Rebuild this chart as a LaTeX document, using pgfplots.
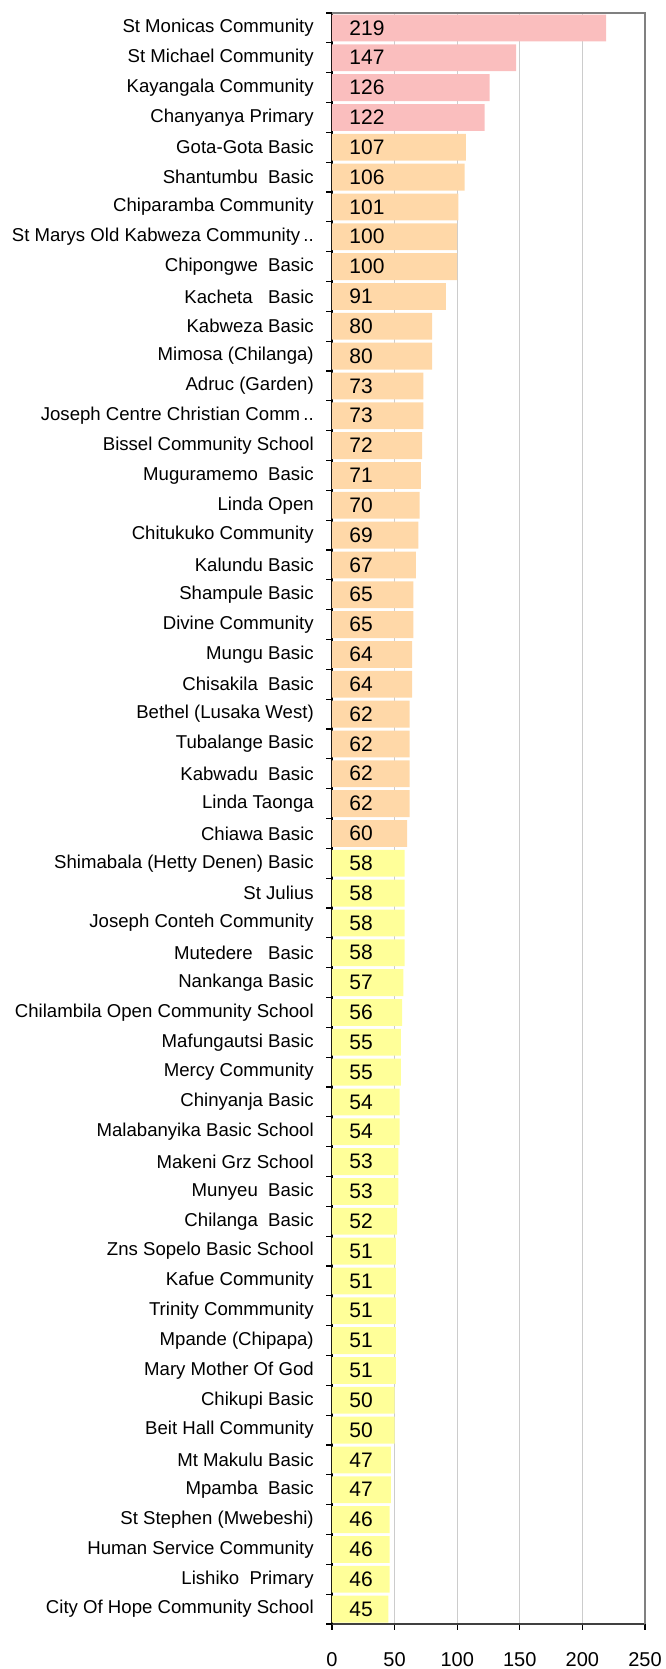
\documentclass[border=0pt]{standalone}
\usepackage{pgfplots}
\pgfplotsset{compat=1.18}
\usepackage{pgfplotstable}
\usepackage{fontspec}
\setmainfont{Liberation Sans}
\definecolor{cpink}{RGB}{250,190,190}
\definecolor{cpeach}{RGB}{255,216,168}
\definecolor{cyel}{RGB}{255,255,153}
\definecolor{bordergray}{RGB}{128,128,128}

\pgfplotstableread{
y v
0 219
1 147
2 126
3 122
}\pinktab

\pgfplotstableread{
y v
4 107
5 106
6 101
7 100
8 100
9 91
10 80
11 80
12 73
13 73
14 72
15 71
16 70
17 69
18 67
19 65
20 65
21 64
22 64
23 62
24 62
25 62
26 62
27 60
}\peachtab

\pgfplotstableread{
y v
28 58
29 58
30 58
31 58
32 57
33 56
34 55
35 55
36 54
37 54
38 53
39 53
40 52
41 51
42 51
43 51
44 51
45 51
46 50
47 50
48 47
49 47
50 46
51 46
52 46
53 45
}\yeltab

\begin{document}
\begin{tikzpicture}
\begin{axis}[name=ax,
  scale only axis, width=156.5pt, height=805.5pt,
  xmin=0, xmax=250, ymin=-0.5, ymax=53.5, y dir=reverse,
  xtick={0,50,...,250},
  ytick={0,...,53},
  yticklabels={St Monicas Community,St Michael Community,Kayangala Community,Chanyanya Primary,Gota-Gota Basic,Shantumbu\ \ Basic,Chiparamba Community,St Marys Old Kabweza Community\,..,Chipongwe\ \ Basic,Kacheta\ \ \ Basic,Kabweza Basic,Mimosa (Chilanga),Adruc (Garden),Joseph Centre Christian Comm\,..,Bissel Community School,Muguramemo\ \ Basic,Linda Open,Chitukuko Community,Kalundu Basic,Shampule Basic,Divine Community,Mungu Basic,Chisakila\ \ Basic,Bethel (Lusaka West),Tubalange Basic,Kabwadu\ \ Basic,Linda Taonga,Chiawa Basic,Shimabala (Hetty Denen) Basic,St Julius,Joseph Conteh Community,Mutedere\ \ \ Basic,Nankanga Basic,Chilambila Open Community School,Mafungautsi Basic,Mercy Community,Chinyanja Basic,Malabanyika Basic School,Makeni Grz School,Munyeu\ \ Basic,Chilanga\ \ Basic,Zns Sopelo Basic School,Kafue Community,Trinity Commmunity,Mpande (Chipapa),Mary Mother Of God,Chikupi Basic,Beit Hall Community,Mt Makulu Basic,Mpamba\ \ Basic,St Stephen (Mwebeshi),Human Service Community,Lishiko\ \ Primary,City Of Hope Community School},
  minor ytick={-0.5,0.5,...,53.5},
  axis x line*=bottom, axis y line*=left,
  x axis line style={draw=black!75, line width=1pt, -},
  y axis line style={draw=black, line width=0.8pt, -},
  xmajorgrids, grid style={draw=black!20, line width=0.5pt},
  tick align=outside, major tick length=2.8pt, minor tick length=2.8pt,
  major y tick style={draw=none},
  tick style={draw=black, line width=0.6pt},
  yticklabel style={font=\fontsize{9.3}{11}\selectfont, anchor=east, xshift=-2.8pt},
  xticklabel style={font=\fontsize{10}{12}\selectfont, yshift=-8pt},
  /pgf/number format/assume math mode=true,
  clip=false,
]
\addplot[xbar, bar shift=0pt, bar width=0.9, fill=cpink, draw=none] table[x=v, y=y] {\pinktab};
\addplot[xbar, bar shift=0pt, bar width=0.9, fill=cpeach, draw=none] table[x=v, y=y] {\peachtab};
\addplot[xbar, bar shift=0pt, bar width=0.9, fill=cyel, draw=none] table[x=v, y=y] {\yeltab};
\pgfplotsset{lbl/.style={only marks, mark=none, point meta=explicit, nodes near coords,
  every node near coord/.append style={anchor=west, inner sep=0pt, xshift=8.5pt, font=\fontsize{10.5}{12}\selectfont, text=black}}}
\addplot[lbl] table[x expr=0, y=y, meta=v] {\pinktab};
\addplot[lbl] table[x expr=0, y=y, meta=v] {\peachtab};
\addplot[lbl] table[x expr=0, y=y, meta=v] {\yeltab};
\end{axis}
\draw[bordergray, line width=1.2pt] (ax.north west) -- (ax.north east) -- (ax.south east);
\pgfresetboundingbox
\path[use as bounding box] ([shift={(-166pt,-22.5pt)}]ax.south west) rectangle ([shift={(10pt,6.5pt)}]ax.north east);
\end{tikzpicture}
\end{document}
